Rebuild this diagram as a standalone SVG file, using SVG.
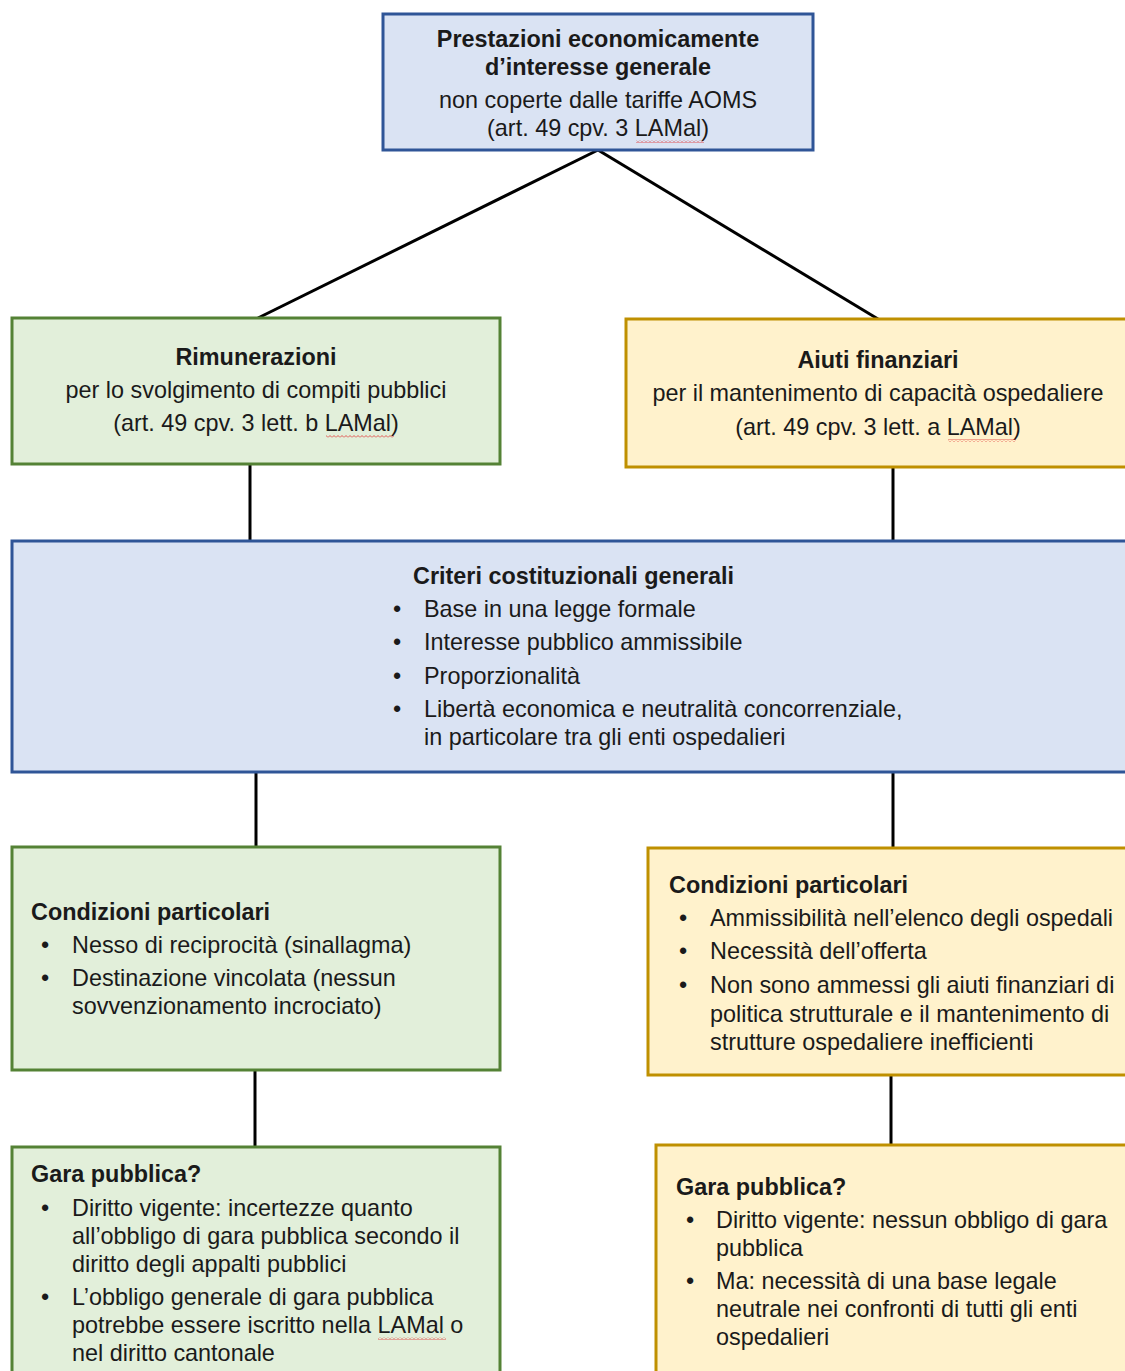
<svg xmlns="http://www.w3.org/2000/svg" width="1125" height="1371" viewBox="0 0 1125 1371">
<defs>
<style>
text{font-family:"Liberation Sans",Arial,sans-serif;font-size:23.4px;fill:#1a1a1a}
.b{font-weight:bold}
.c{text-anchor:middle}
.blue{fill:#DAE3F3;stroke:#2F5597;stroke-width:3}
.green{fill:#E2EFDA;stroke:#548235;stroke-width:3}
.gold{fill:#FFF2CC;stroke:#BF9000;stroke-width:3}
.conn line{stroke:#000;stroke-width:3}
</style>
<pattern id="wave" width="4" height="3" patternUnits="userSpaceOnUse">
<path d="M0,2.5 L2,0.5 L4,2.5" fill="none" stroke="#e03030" stroke-width="0.8"/>
</pattern>
</defs>
<rect width="1125" height="1371" fill="#fff"/>
<g class="conn" id="connectors">
<line x1="598" y1="150" x2="258" y2="318"/>
<line x1="598" y1="150" x2="878" y2="319"/>
<line x1="250" y1="464" x2="250" y2="541"/>
<line x1="893" y1="467" x2="893" y2="541"/>
<line x1="256" y1="772" x2="256" y2="847"/>
<line x1="893" y1="772" x2="893" y2="848"/>
<line x1="255" y1="1070" x2="255" y2="1147"/>
<line x1="891" y1="1075" x2="891" y2="1145"/>
</g>
<g id="top">
<rect class="blue" x="383" y="14" width="430" height="136"/>
<text class="b c" x="598" y="47">Prestazioni economicamente</text>
<text class="b c" x="598" y="75">d’interesse generale</text>
<text class="c" x="598" y="108">non coperte dalle tariffe AOMS</text>
<text class="c" x="598" y="136">(art. 49 cpv. 3 LAMal)</text>
<rect x="636" y="140" width="68" height="3" fill="url(#wave)"/>
</g>
<g id="rimunerazioni">
<rect class="green" x="12" y="318" width="488" height="146"/>
<text class="b c" x="256" y="365">Rimunerazioni</text>
<text class="c" x="256" y="398">per lo svolgimento di compiti pubblici</text>
<text class="c" x="256" y="431">(art. 49 cpv. 3 lett. b LAMal)</text>
<rect x="326" y="435" width="68" height="3" fill="url(#wave)"/>
</g>
<g id="aiuti">
<rect class="gold" x="626" y="319" width="520" height="148"/>
<text class="b c" x="878" y="368">Aiuti finanziari</text>
<text class="c" x="878" y="401">per il mantenimento di capacità ospedaliere</text>
<text class="c" x="878" y="435">(art. 49 cpv. 3 lett. a LAMal)</text>
<rect x="948" y="439" width="68" height="3" fill="url(#wave)"/>
</g>
<g id="criteri">
<rect class="blue" x="12" y="541" width="1134" height="231"/>
<text class="b" x="413" y="584">Criteri costituzionali generali</text>
<text x="393" y="617">•</text><text x="424" y="617">Base in una legge formale</text>
<text x="393" y="650">•</text><text x="424" y="650">Interesse pubblico ammissibile</text>
<text x="393" y="684">•</text><text x="424" y="684">Proporzionalità</text>
<text x="393" y="717">•</text><text x="424" y="717">Libertà economica e neutralità concorrenziale,</text>
<text x="424" y="745">in particolare tra gli enti ospedalieri</text>
</g>
<g id="condizioni-sx">
<rect class="green" x="12" y="847" width="488" height="223"/>
<text class="b" x="31" y="920">Condizioni particolari</text>
<text x="41" y="953">•</text><text x="72" y="953">Nesso di reciprocità (sinallagma)</text>
<text x="41" y="986">•</text><text x="72" y="986">Destinazione vincolata (nessun</text>
<text x="72" y="1014">sovvenzionamento incrociato)</text>
</g>
<g id="condizioni-dx">
<rect class="gold" x="648" y="848" width="498" height="227"/>
<text class="b" x="669" y="893">Condizioni particolari</text>
<text x="679" y="926">•</text><text x="710" y="926">Ammissibilità nell’elenco degli ospedali</text>
<text x="679" y="959">•</text><text x="710" y="959">Necessità dell’offerta</text>
<text x="679" y="993">•</text><text x="710" y="993">Non sono ammessi gli aiuti finanziari di</text>
<text x="710" y="1022">politica strutturale e il mantenimento di</text>
<text x="710" y="1050">strutture ospedaliere inefficienti</text>
</g>
<g id="gara-sx">
<rect class="green" x="12" y="1147" width="488" height="240"/>
<text class="b" x="31" y="1182">Gara pubblica?</text>
<text x="41" y="1216">•</text><text x="72" y="1216">Diritto vigente: incertezze quanto</text>
<text x="72" y="1244">all’obbligo di gara pubblica secondo il</text>
<text x="72" y="1272">diritto degli appalti pubblici</text>
<text x="41" y="1305">•</text><text x="72" y="1305">L’obbligo generale di gara pubblica</text>
<text x="72" y="1333">potrebbe essere iscritto nella LAMal o</text>
<rect x="378" y="1337" width="68" height="3" fill="url(#wave)"/>
<text x="72" y="1361">nel diritto cantonale</text>
</g>
<g id="gara-dx">
<rect class="gold" x="656" y="1145" width="490" height="240"/>
<text class="b" x="676" y="1195">Gara pubblica?</text>
<text x="686" y="1228">•</text><text x="716" y="1228">Diritto vigente: nessun obbligo di gara</text>
<text x="716" y="1256">pubblica</text>
<text x="686" y="1289">•</text><text x="716" y="1289">Ma: necessità di una base legale</text>
<text x="716" y="1317">neutrale nei confronti di tutti gli enti</text>
<text x="716" y="1345">ospedalieri</text>
</g>
</svg>
